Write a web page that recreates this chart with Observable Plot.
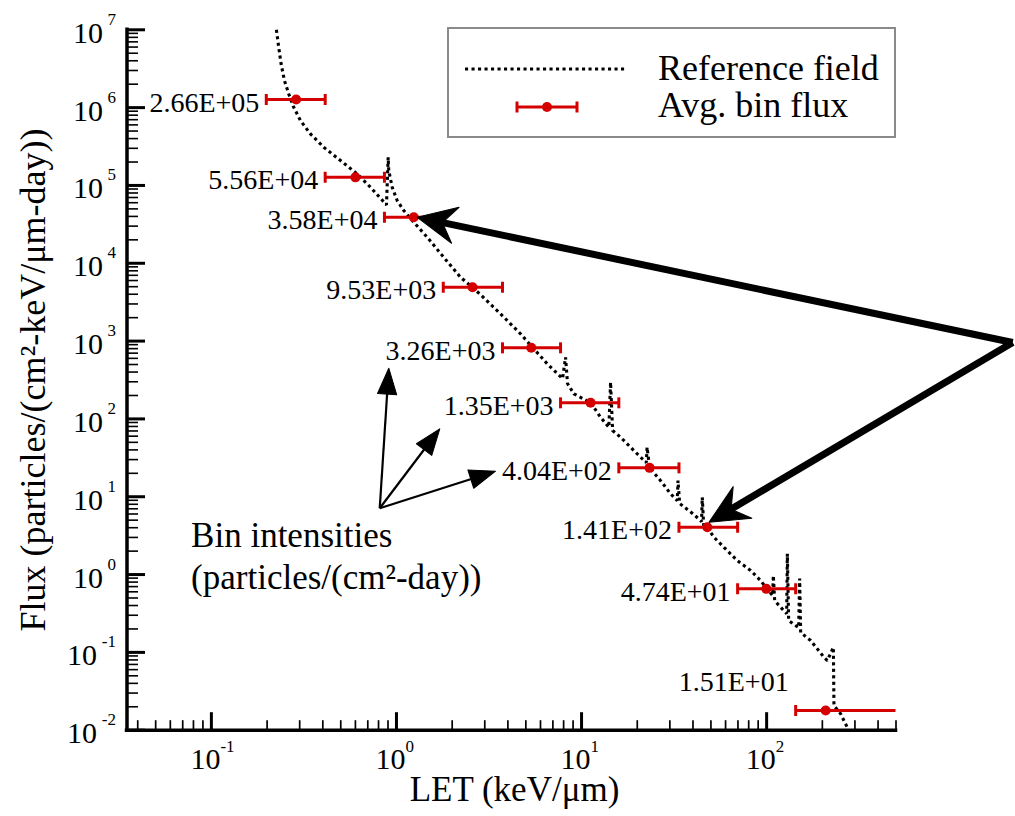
<!DOCTYPE html>
<html>
<head>
<meta charset="utf-8">
<script src="https://cdn.jsdelivr.net/npm/d3@7"></script>
<script src="https://cdn.jsdelivr.net/npm/@observablehq/plot@0.6"></script>
<style>
html, body { margin: 0; padding: 0; background: #fff; }
#chart { position: relative; width: 1015px; height: 816px; }
#chart svg, #chart svg text { font-family: "Liberation Serif", "Times New Roman", serif; }
</style>
</head>
<body>
<div id="chart"></div>
<script>
// ---------------- data ----------------
const binLabels = ["2.66E+05","5.56E+04","3.58E+04","9.53E+03","3.26E+03","1.35E+03","4.04E+02","1.41E+02","4.74E+01","1.51E+01"];
const binLow    = [0.198, 0.412, 0.861, 1.79, 3.74, 7.70, 15.9, 33.6, 69.7, 143.5];
const binHigh   = [0.412, 0.861, 1.79, 3.74, 7.70, 15.9, 33.6, 69.7, 143.5, 1000];
const binCenter = [0.287, 0.600, 1.240, 2.576, 5.35, 11.19, 23.3, 47.8, 99.6, 208.4];
const binFlux   = [1.27e6, 1.27e5, 3.90e4, 4.92e3, 819, 161, 23.5, 4.05, 0.655, 0.0179];

const refLET = [0.2245, 0.2311, 0.2380, 0.2481, 0.2618, 0.2786, 0.3029, 0.3428, 0.4046, 0.4982,
  0.6131, 0.7236, 0.8830, 0.9019, 0.9087, 0.9479, 1.0087, 1.095, 1.240, 1.466,
  1.802, 2.218, 2.576, 2.845, 3.648, 4.681, 5.523, 6.526, 7.896, 8.196,
  8.40, 9.087, 11.19, 12.67, 14.05, 14.35, 14.71, 16.25, 18.40, 20.84,
  22.38, 22.6, 23.32, 26.73, 30.27, 32.9, 33.2, 33.9, 40.5, 44.5,
  44.9, 45.7, 47.8, 51.9, 58.8, 69.4, 81.9, 92.8, 100, 107.8,
  108.7, 110.5, 119.0, 128.3, 129.4, 131.5, 148.9, 150.8, 152.7, 172.9,
  204.0, 212.8, 229.4, 231.1, 251.2, 277.5];
const refFlux = [1.0e7, 5.97e6, 3.65e6, 2.23e6, 1.50e6, 1.01e6, 6.82e5, 4.60e5, 3.10e5, 2.09e5,
  1.41e5, 9.48e4, 5.63e4, 2.30e5, 1.55e5, 9.48e4, 6.40e4, 4.76e4, 3.37e4, 2.16e4,
  1.19e4, 6.61e3, 4.88e3, 3.96e3, 2.24e3, 1.24e3, 795, 510, 330, 620,
  285, 210, 162, 105, 78.1, 296, 70.9, 58.1, 43.2, 32.2,
  27.5, 43.2, 23.5, 16.1, 10.9, 8.93, 16.1, 8.17, 5.90, 4.80,
  9.85, 4.26, 4.02, 3.02, 2.24, 1.51, 1.13, 0.837, 0.661, 0.537,
  0.971, 0.463, 0.380, 0.315, 1.85, 0.256, 0.208, 0.888, 0.180, 0.142,
  0.0866, 0.0785, 0.116, 0.0207, 0.0162, 0.0100];

const xDomain = [0.035, 500];
const yDomain = [1e-2, 1e7];
const xMajorTicks = [0.1, 1, 10, 100];
const xExponents  = ["-1", "0", "1", "2"];
const xMinorTicks = [0.04,0.05,0.06,0.07,0.08,0.09, 0.2,0.3,0.4,0.5,0.6,0.7,0.8,0.9,
  2,3,4,5,6,7,8,9, 20,30,40,50,60,70,80,90, 200,300,400,500];
const yMajorTicks = [1e-2, 1e-1, 1, 10, 100, 1e3, 1e4, 1e5, 1e6, 1e7];
const yExponents  = ["-2","-1","0","1","2","3","4","5","6","7"];
const yMinorTicks = [
  0.02,0.03,0.04,0.05,0.06,0.07,0.08,0.09,
  0.2,0.3,0.4,0.5,0.6,0.7,0.8,0.9,
  2,3,4,5,6,7,8,9,
  20,30,40,50,60,70,80,90,
  200,300,400,500,600,700,800,900,
  2e3,3e3,4e3,5e3,6e3,7e3,8e3,9e3,
  2e4,3e4,4e4,5e4,6e4,7e4,8e4,9e4,
  2e5,3e5,4e5,5e5,6e5,7e5,8e5,9e5,
  2e6,3e6,4e6,5e6,6e6,7e6,8e6,9e6];

const xTitle = "LET (keV/\u03bcm)";
const yTitle = "Flux (particles/(cm\u00b2-keV/\u03bcm-day))";
const annoText = "Bin intensities\n(particles/(cm\u00b2-day))";
const annoTextLET = 0.0777, annoTextFlux = 0.655;
const smallFromLET = 0.812, smallFromFlux = 7.11;
const smallTipLET  = [0.909, 1.714, 3.43];
const smallTipFlux = [448, 74.5, 21.3];
const bigFromLET = 2136, bigFromFlux = 958;
const bigTipLET  = [1.294, 48.8];
const bigTipFlux = [3.90e4, 4.70];
const legendLabels = ["Reference field", "Avg. bin flux"];

// ---------------- layout / style ----------------
const W = 1015, H = 816, ML = 126.5, MR = 119.5, MT = 29.3, MB = 86.3;
const red = "#d40000";
const font = "Liberation Serif";

const bins = binLabels.map((label, i) => ({label, lo: binLow[i], hi: binHigh[i], x: binCenter[i], flux: binFlux[i]}));
const ref = refLET.map((x, i) => ({x, y: refFlux[i]}));
const xTickRows = xMajorTicks.map((v, i) => ({v, exp: xExponents[i]}));
const yTickRows = yMajorTicks.map((v, i) => ({v, exp: yExponents[i]}));

const sx = Plot.scale({x: {type: "log", domain: xDomain, range: [ML, W - MR]}});
const sy = Plot.scale({y: {type: "log", domain: yDomain, range: [H - MB, MT]}});
function heading(x0, y0, x1, y1) {
  const dx = sx.apply(x1) - sx.apply(x0), dy = sy.apply(y1) - sy.apply(y0);
  return Math.atan2(dx, -dy) * 180 / Math.PI;
}
const smallArrows = smallTipLET.map((x, i) => ({x, y: smallTipFlux[i], a: heading(smallFromLET, smallFromFlux, x, smallTipFlux[i])}));
const bigArrows = bigTipLET.map((x, i) => ({x, y: bigTipFlux[i], a: heading(bigFromLET, bigFromFlux, x, bigTipFlux[i])}));

const tickShape = {draw(c, l) { c.moveTo(0, 0); c.lineTo(0, -l); }};
const stealthShape = {draw(c, l) { c.moveTo(0, 0); c.lineTo(0.47 * l, l); c.lineTo(0, 0.66 * l); c.lineTo(-0.47 * l, l); c.closePath(); }};
const triShape = {draw(c, l) { c.moveTo(0, 0); c.lineTo(0.37 * l, l); c.lineTo(-0.37 * l, l); c.closePath(); }};
const T = {fontFamily: font, fill: "black"};

const fig = Plot.plot({
  width: W, height: H,
  marginLeft: ML, marginRight: MR, marginTop: MT, marginBottom: MB,
  x: {type: "log", domain: xDomain, axis: null},
  y: {type: "log", domain: yDomain, axis: null},
  style: {fontFamily: font, background: "white", color: "black"},
  marks: [
    // axes
    Plot.ruleX([xDomain[0]], {stroke: "black", strokeWidth: 3.5, strokeLinecap: "square"}),
    Plot.ruleY([yDomain[0]], {stroke: "black", strokeWidth: 3.5, strokeLinecap: "square"}),
    Plot.vector(xMajorTicks, {x: d => d, y: yDomain[0], length: 18, rotate: 0, anchor: "start", shape: tickShape, stroke: "black", strokeWidth: 3, strokeLinecap: "butt"}),
    Plot.vector(xMinorTicks, {x: d => d, y: yDomain[0], length: 10, rotate: 0, anchor: "start", shape: tickShape, stroke: "black", strokeWidth: 1.7, strokeLinecap: "butt"}),
    Plot.vector(yMajorTicks, {x: xDomain[0], y: d => d, length: 18, rotate: 90, anchor: "start", shape: tickShape, stroke: "black", strokeWidth: 3, strokeLinecap: "butt"}),
    Plot.vector(yMinorTicks, {x: xDomain[0], y: d => d, length: 11, rotate: 90, anchor: "start", shape: tickShape, stroke: "black", strokeWidth: 1.6, strokeLinecap: "butt"}),
    // tick labels
    Plot.text(xTickRows, {...T, x: "v", y: yDomain[0], text: () => "10", textAnchor: "end", lineAnchor: "bottom", dx: 9, dy: 39, fontSize: 30}),
    Plot.text(xTickRows, {...T, x: "v", y: yDomain[0], text: "exp", textAnchor: "start", lineAnchor: "bottom", dx: 9, dy: 22, fontSize: 17}),
    Plot.text(yTickRows.filter(d => !d.exp.startsWith("-")), {...T, x: xDomain[0], y: "v", text: () => "10", textAnchor: "end", lineAnchor: "bottom", dx: -24, dy: 13, fontSize: 30}),
    Plot.text(yTickRows.filter(d => d.exp.startsWith("-")), {...T, x: xDomain[0], y: "v", text: () => "10", textAnchor: "end", lineAnchor: "bottom", dx: -30, dy: 13, fontSize: 30}),
    Plot.text(yTickRows, {...T, x: xDomain[0], y: "v", text: "exp", textAnchor: "end", lineAnchor: "bottom", dx: -11, dy: -5, fontSize: 17}),
    // axis titles
    Plot.text([xTitle], {...T, text: d => d, frameAnchor: "bottom", textAnchor: "middle", lineAnchor: "bottom", dx: 3, dy: 71, fontSize: 35}),
    Plot.text([yTitle], {...T, text: d => d, frameAnchor: "left", textAnchor: "middle", rotate: -90, lineAnchor: "middle", dx: -94, fontSize: 36}),
    // reference field
    Plot.line(ref, {x: "x", y: "y", stroke: "black", strokeWidth: 3.1, strokeDasharray: "3.1,3.4", strokeLinecap: "butt", strokeLinejoin: "miter"}),
    // error bars
    Plot.ruleY(bins, {y: "flux", x1: "lo", x2: "hi", stroke: red, strokeWidth: 3, clip: true}),
    Plot.vector(bins, {x: "lo", y: "flux", length: 11, rotate: 0, anchor: "middle", shape: tickShape, stroke: red, strokeWidth: 3, strokeLinecap: "butt", clip: true}),
    Plot.vector(bins, {x: "hi", y: "flux", length: 11, rotate: 0, anchor: "middle", shape: tickShape, stroke: red, strokeWidth: 3, strokeLinecap: "butt", clip: true}),
    Plot.dot(bins, {x: "x", y: "flux", r: 5, fill: red}),
    // bin labels
    Plot.text(bins.slice(0, -1), {...T, x: "lo", y: "flux", text: "label", textAnchor: "end", lineAnchor: "bottom", dx: -7, dy: 12, fontSize: 28}),
    Plot.text(bins.slice(-1), {...T, x: "lo", y: "flux", text: "label", textAnchor: "end", lineAnchor: "bottom", dx: -7, dy: -20, fontSize: 28}),
    // annotation
    Plot.text([annoText], {...T, x: annoTextLET, y: annoTextFlux, text: d => d, textAnchor: "start", lineAnchor: "bottom", lineHeight: 1.19, fontSize: 35}),
    Plot.arrow(smallArrows, {x1: smallFromLET, y1: smallFromFlux, x2: "x", y2: "y", headLength: 0, insetEnd: 14, stroke: "black", strokeWidth: 2.2, strokeLinecap: "butt"}),
    Plot.vector(smallArrows, {x: "x", y: "y", rotate: "a", length: 26, anchor: "start", shape: triShape, fill: "black", stroke: "black", strokeWidth: 1}),
    Plot.arrow(bigArrows, {x1: bigFromLET, y1: bigFromFlux, x2: "x", y2: "y", headLength: 0, insetEnd: 20, stroke: "black", strokeWidth: 7, strokeLinecap: "butt"}),
    Plot.vector(bigArrows, {x: "x", y: "y", rotate: "a", length: 39, anchor: "start", shape: stealthShape, fill: "black", stroke: "black", strokeWidth: 1})
  ]
});

// legend (inside the frame, top right)
const lg = d3.select(fig).append("g").attr("font-family", font).attr("text-anchor", "start");
lg.append("rect").attr("x", 448).attr("y", 28).attr("width", 447).attr("height", 109)
  .attr("fill", "white").attr("stroke", "#8a8a8a").attr("stroke-width", 2);
lg.append("line").attr("x1", 465).attr("x2", 625).attr("y1", 69).attr("y2", 69)
  .attr("stroke", "black").attr("stroke-width", 3.1).attr("stroke-dasharray", "3.1,3.4");
lg.append("line").attr("x1", 517).attr("x2", 577).attr("y1", 107).attr("y2", 107)
  .attr("stroke", red).attr("stroke-width", 3);
[517, 577].forEach(x => lg.append("line").attr("x1", x).attr("x2", x).attr("y1", 101.5).attr("y2", 112.5)
  .attr("stroke", red).attr("stroke-width", 3));
lg.append("circle").attr("cx", 547).attr("cy", 107).attr("r", 5).attr("fill", red);
legendLabels.forEach((t, i) => lg.append("text").attr("x", 658).attr("y", i ? 117 : 80)
  .attr("text-anchor", "start").attr("font-size", 36).attr("fill", "black").text(t));

document.getElementById("chart").appendChild(fig);
</script>
</body>
</html>
